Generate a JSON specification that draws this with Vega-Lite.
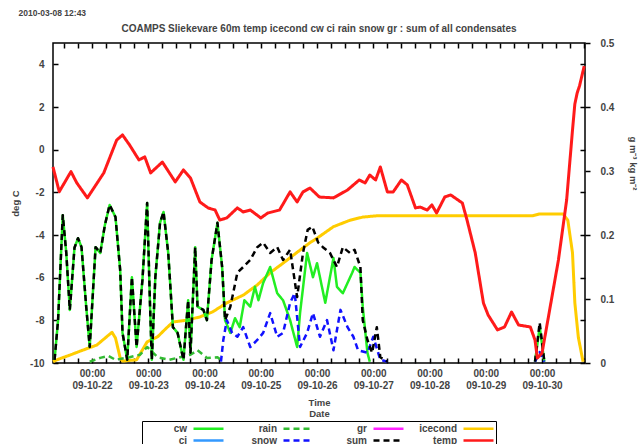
{
  "$schema": "https://vega.github.io/schema/vega-lite/v6.json",
  "width": 532,
  "height": 320,
  "autosize": "none",
  "padding": {"left": 53, "top": 43, "right": 57, "bottom": 81},
  "background": "white",
  "title": {
    "text": "COAMPS Sliekevare 60m  temp icecond cw ci rain snow gr : sum of all condensates",
    "anchor": "middle",
    "frame": "group",
    "offset": 9,
    "dy": 35,
    "font": "Liberation Sans",
    "fontSize": 10,
    "fontWeight": "bold",
    "color": "#444"
  },
  "config": {
    "view": {"stroke": "black", "strokeWidth": 1.5},
    "font": "Liberation Sans",
    "axis": {
      "labelFont": "Liberation Sans",
      "labelFontWeight": "bold",
      "labelFontSize": 10,
      "labelColor": "#444",
      "titleFont": "Liberation Sans",
      "titleFontWeight": "bold",
      "titleFontSize": 9.5,
      "titleColor": "#444",
      "tickColor": "black",
      "tickWidth": 1.5,
      "domain": false,
      "grid": false
    },
    "legend": {
      "labelFont": "Liberation Sans",
      "labelFontWeight": "bold",
      "labelFontSize": 10,
      "labelColor": "#444"
    },
    "line": {"strokeWidth": 2.5, "strokeJoin": "round"}
  },
  "data": {
    "values": [
      {"s": "temp", "t": "2009-10-21T07:20Z", "v": -0.81},
      {"s": "temp", "t": "2009-10-21T10:00Z", "v": -1.97},
      {"s": "temp", "t": "2009-10-21T15:00Z", "v": -1.03},
      {"s": "temp", "t": "2009-10-21T17:30Z", "v": -1.56},
      {"s": "temp", "t": "2009-10-21T22:00Z", "v": -2.26},
      {"s": "temp", "t": "2009-10-22T05:00Z", "v": -1.09},
      {"s": "temp", "t": "2009-10-22T10:30Z", "v": 0.45},
      {"s": "temp", "t": "2009-10-22T13:00Z", "v": 0.69},
      {"s": "temp", "t": "2009-10-22T16:00Z", "v": 0.22},
      {"s": "temp", "t": "2009-10-22T20:00Z", "v": -0.48},
      {"s": "temp", "t": "2009-10-22T22:30Z", "v": -0.34},
      {"s": "temp", "t": "2009-10-23T01:00Z", "v": -1.09},
      {"s": "temp", "t": "2009-10-23T06:00Z", "v": -0.58},
      {"s": "temp", "t": "2009-10-23T11:30Z", "v": -1.51},
      {"s": "temp", "t": "2009-10-23T15:00Z", "v": -0.95},
      {"s": "temp", "t": "2009-10-23T18:00Z", "v": -1.33},
      {"s": "temp", "t": "2009-10-23T22:00Z", "v": -2.45},
      {"s": "temp", "t": "2009-10-24T01:30Z", "v": -2.73},
      {"s": "temp", "t": "2009-10-24T04:30Z", "v": -2.83},
      {"s": "temp", "t": "2009-10-24T06:30Z", "v": -3.30},
      {"s": "temp", "t": "2009-10-24T09:30Z", "v": -3.20},
      {"s": "temp", "t": "2009-10-24T14:00Z", "v": -2.73},
      {"s": "temp", "t": "2009-10-24T16:30Z", "v": -2.92},
      {"s": "temp", "t": "2009-10-24T19:30Z", "v": -2.83},
      {"s": "temp", "t": "2009-10-25T00:00Z", "v": -3.20},
      {"s": "temp", "t": "2009-10-25T03:00Z", "v": -2.97},
      {"s": "temp", "t": "2009-10-25T08:00Z", "v": -2.83},
      {"s": "temp", "t": "2009-10-25T12:30Z", "v": -1.98},
      {"s": "temp", "t": "2009-10-25T15:30Z", "v": -2.45},
      {"s": "temp", "t": "2009-10-25T18:00Z", "v": -1.98},
      {"s": "temp", "t": "2009-10-25T21:00Z", "v": -1.80},
      {"s": "temp", "t": "2009-10-26T01:00Z", "v": -2.22},
      {"s": "temp", "t": "2009-10-26T07:00Z", "v": -2.26},
      {"s": "temp", "t": "2009-10-26T13:00Z", "v": -1.89},
      {"s": "temp", "t": "2009-10-26T18:00Z", "v": -1.42},
      {"s": "temp", "t": "2009-10-26T20:30Z", "v": -1.56},
      {"s": "temp", "t": "2009-10-26T22:30Z", "v": -1.19},
      {"s": "temp", "t": "2009-10-27T01:00Z", "v": -1.42},
      {"s": "temp", "t": "2009-10-27T03:00Z", "v": -0.81},
      {"s": "temp", "t": "2009-10-27T06:00Z", "v": -1.98},
      {"s": "temp", "t": "2009-10-27T08:30Z", "v": -1.98},
      {"s": "temp", "t": "2009-10-27T12:00Z", "v": -1.42},
      {"s": "temp", "t": "2009-10-27T14:30Z", "v": -1.65},
      {"s": "temp", "t": "2009-10-27T18:00Z", "v": -2.73},
      {"s": "temp", "t": "2009-10-27T20:00Z", "v": -2.69},
      {"s": "temp", "t": "2009-10-27T23:00Z", "v": -2.83},
      {"s": "temp", "t": "2009-10-28T01:00Z", "v": -2.59},
      {"s": "temp", "t": "2009-10-28T03:00Z", "v": -2.97},
      {"s": "temp", "t": "2009-10-28T06:30Z", "v": -2.22},
      {"s": "temp", "t": "2009-10-28T09:00Z", "v": -2.12},
      {"s": "temp", "t": "2009-10-28T14:00Z", "v": -2.50},
      {"s": "temp", "t": "2009-10-28T16:00Z", "v": -3.30},
      {"s": "temp", "t": "2009-10-28T19:30Z", "v": -4.84},
      {"s": "temp", "t": "2009-10-28T23:00Z", "v": -7.19},
      {"s": "temp", "t": "2009-10-29T01:00Z", "v": -7.75},
      {"s": "temp", "t": "2009-10-29T05:00Z", "v": -8.45},
      {"s": "temp", "t": "2009-10-29T08:00Z", "v": -8.31},
      {"s": "temp", "t": "2009-10-29T11:00Z", "v": -7.61},
      {"s": "temp", "t": "2009-10-29T14:00Z", "v": -8.22},
      {"s": "temp", "t": "2009-10-29T19:00Z", "v": -8.31},
      {"s": "temp", "t": "2009-10-29T21:00Z", "v": -8.92},
      {"s": "temp", "t": "2009-10-29T22:00Z", "v": -9.77},
      {"s": "temp", "t": "2009-10-30T00:00Z", "v": -9.53},
      {"s": "temp", "t": "2009-10-30T02:30Z", "v": -7.98},
      {"s": "temp", "t": "2009-10-30T07:00Z", "v": -5.17},
      {"s": "temp", "t": "2009-10-30T10:30Z", "v": -2.36},
      {"s": "temp", "t": "2009-10-30T13:00Z", "v": 0.92},
      {"s": "temp", "t": "2009-10-30T14:00Z", "v": 2.14},
      {"s": "temp", "t": "2009-10-30T15:00Z", "v": 2.66},
      {"s": "temp", "t": "2009-10-30T16:00Z", "v": 2.99},
      {"s": "temp", "t": "2009-10-30T18:00Z", "v": 3.92},

      {"s": "icecond", "t": "2009-10-21T07:20Z", "v": 0.002},
      {"s": "icecond", "t": "2009-10-21T09:00Z", "v": 0.005},
      {"s": "icecond", "t": "2009-10-21T15:00Z", "v": 0.013},
      {"s": "icecond", "t": "2009-10-21T20:00Z", "v": 0.020},
      {"s": "icecond", "t": "2009-10-22T02:00Z", "v": 0.028},
      {"s": "icecond", "t": "2009-10-22T08:30Z", "v": 0.048},
      {"s": "icecond", "t": "2009-10-22T10:00Z", "v": 0.039},
      {"s": "icecond", "t": "2009-10-22T12:00Z", "v": 0.008},
      {"s": "icecond", "t": "2009-10-22T13:00Z", "v": 0.003},
      {"s": "icecond", "t": "2009-10-22T19:00Z", "v": 0.005},
      {"s": "icecond", "t": "2009-10-22T23:30Z", "v": 0.033},
      {"s": "icecond", "t": "2009-10-23T04:00Z", "v": 0.041},
      {"s": "icecond", "t": "2009-10-23T07:00Z", "v": 0.052},
      {"s": "icecond", "t": "2009-10-23T10:30Z", "v": 0.064},
      {"s": "icecond", "t": "2009-10-23T16:30Z", "v": 0.067},
      {"s": "icecond", "t": "2009-10-23T22:00Z", "v": 0.072},
      {"s": "icecond", "t": "2009-10-24T03:30Z", "v": 0.080},
      {"s": "icecond", "t": "2009-10-24T09:30Z", "v": 0.094},
      {"s": "icecond", "t": "2009-10-24T16:30Z", "v": 0.106},
      {"s": "icecond", "t": "2009-10-24T22:30Z", "v": 0.122},
      {"s": "icecond", "t": "2009-10-25T04:00Z", "v": 0.141},
      {"s": "icecond", "t": "2009-10-25T09:30Z", "v": 0.156},
      {"s": "icecond", "t": "2009-10-25T15:30Z", "v": 0.173},
      {"s": "icecond", "t": "2009-10-25T21:00Z", "v": 0.188},
      {"s": "icecond", "t": "2009-10-26T00:00Z", "v": 0.195},
      {"s": "icecond", "t": "2009-10-26T07:00Z", "v": 0.213},
      {"s": "icecond", "t": "2009-10-26T14:00Z", "v": 0.223},
      {"s": "icecond", "t": "2009-10-26T19:30Z", "v": 0.228},
      {"s": "icecond", "t": "2009-10-27T01:30Z", "v": 0.230},
      {"s": "icecond", "t": "2009-10-28T01:30Z", "v": 0.230},
      {"s": "icecond", "t": "2009-10-29T20:00Z", "v": 0.230},
      {"s": "icecond", "t": "2009-10-29T23:00Z", "v": 0.233},
      {"s": "icecond", "t": "2009-10-30T09:00Z", "v": 0.233},
      {"s": "icecond", "t": "2009-10-30T11:00Z", "v": 0.223},
      {"s": "icecond", "t": "2009-10-30T13:00Z", "v": 0.172},
      {"s": "icecond", "t": "2009-10-30T14:00Z", "v": 0.094},
      {"s": "icecond", "t": "2009-10-30T15:30Z", "v": 0.040},
      {"s": "icecond", "t": "2009-10-30T17:30Z", "v": 0.002},

      {"s": "sum", "t": "2009-10-21T08:00Z", "v": 0.005},
      {"s": "sum", "t": "2009-10-21T09:30Z", "v": 0.067},
      {"s": "sum", "t": "2009-10-21T11:30Z", "v": 0.231},
      {"s": "sum", "t": "2009-10-21T13:00Z", "v": 0.172},
      {"s": "sum", "t": "2009-10-21T14:30Z", "v": 0.083},
      {"s": "sum", "t": "2009-10-21T16:30Z", "v": 0.180},
      {"s": "sum", "t": "2009-10-21T18:00Z", "v": 0.195},
      {"s": "sum", "t": "2009-10-21T19:30Z", "v": 0.181},
      {"s": "sum", "t": "2009-10-21T21:30Z", "v": 0.088},
      {"s": "sum", "t": "2009-10-21T23:00Z", "v": 0.025},
      {"s": "sum", "t": "2009-10-22T01:30Z", "v": 0.181},
      {"s": "sum", "t": "2009-10-22T03:30Z", "v": 0.172},
      {"s": "sum", "t": "2009-10-22T05:30Z", "v": 0.216},
      {"s": "sum", "t": "2009-10-22T07:30Z", "v": 0.247},
      {"s": "sum", "t": "2009-10-22T10:00Z", "v": 0.228},
      {"s": "sum", "t": "2009-10-22T12:00Z", "v": 0.145},
      {"s": "sum", "t": "2009-10-22T13:00Z", "v": 0.047},
      {"s": "sum", "t": "2009-10-22T15:00Z", "v": 0.005},
      {"s": "sum", "t": "2009-10-22T17:00Z", "v": 0.134},
      {"s": "sum", "t": "2009-10-22T19:00Z", "v": 0.025},
      {"s": "sum", "t": "2009-10-22T21:30Z", "v": 0.130},
      {"s": "sum", "t": "2009-10-22T23:30Z", "v": 0.250},
      {"s": "sum", "t": "2009-10-23T00:45Z", "v": 0.088},
      {"s": "sum", "t": "2009-10-23T01:30Z", "v": 0.005},
      {"s": "sum", "t": "2009-10-23T03:00Z", "v": 0.134},
      {"s": "sum", "t": "2009-10-23T05:00Z", "v": 0.219},
      {"s": "sum", "t": "2009-10-23T06:30Z", "v": 0.236},
      {"s": "sum", "t": "2009-10-23T08:30Z", "v": 0.172},
      {"s": "sum", "t": "2009-10-23T10:30Z", "v": 0.056},
      {"s": "sum", "t": "2009-10-23T12:30Z", "v": 0.047},
      {"s": "sum", "t": "2009-10-23T15:00Z", "v": 0.005},
      {"s": "sum", "t": "2009-10-23T17:00Z", "v": 0.098},
      {"s": "sum", "t": "2009-10-23T18:00Z", "v": 0.016},
      {"s": "sum", "t": "2009-10-23T20:00Z", "v": 0.181},
      {"s": "sum", "t": "2009-10-23T21:00Z", "v": 0.088},
      {"s": "sum", "t": "2009-10-23T23:30Z", "v": 0.083},
      {"s": "sum", "t": "2009-10-24T01:00Z", "v": 0.067},
      {"s": "sum", "t": "2009-10-24T03:00Z", "v": 0.161},
      {"s": "sum", "t": "2009-10-24T05:30Z", "v": 0.219},
      {"s": "sum", "t": "2009-10-24T07:30Z", "v": 0.150},
      {"s": "sum", "t": "2009-10-24T08:45Z", "v": 0.067},
      {"s": "sum", "t": "2009-10-24T11:00Z", "v": 0.088},
      {"s": "sum", "t": "2009-10-24T14:00Z", "v": 0.141},
      {"s": "sum", "t": "2009-10-24T16:30Z", "v": 0.150},
      {"s": "sum", "t": "2009-10-24T19:30Z", "v": 0.161},
      {"s": "sum", "t": "2009-10-24T22:30Z", "v": 0.181},
      {"s": "sum", "t": "2009-10-25T01:00Z", "v": 0.188},
      {"s": "sum", "t": "2009-10-25T04:00Z", "v": 0.172},
      {"s": "sum", "t": "2009-10-25T07:00Z", "v": 0.181},
      {"s": "sum", "t": "2009-10-25T09:30Z", "v": 0.161},
      {"s": "sum", "t": "2009-10-25T12:30Z", "v": 0.177},
      {"s": "sum", "t": "2009-10-25T15:30Z", "v": 0.103},
      {"s": "sum", "t": "2009-10-25T18:00Z", "v": 0.172},
      {"s": "sum", "t": "2009-10-25T20:00Z", "v": 0.208},
      {"s": "sum", "t": "2009-10-25T22:00Z", "v": 0.213},
      {"s": "sum", "t": "2009-10-26T00:30Z", "v": 0.188},
      {"s": "sum", "t": "2009-10-26T02:30Z", "v": 0.181},
      {"s": "sum", "t": "2009-10-26T05:30Z", "v": 0.172},
      {"s": "sum", "t": "2009-10-26T08:30Z", "v": 0.150},
      {"s": "sum", "t": "2009-10-26T11:00Z", "v": 0.181},
      {"s": "sum", "t": "2009-10-26T14:00Z", "v": 0.172},
      {"s": "sum", "t": "2009-10-26T16:00Z", "v": 0.177},
      {"s": "sum", "t": "2009-10-26T18:30Z", "v": 0.150},
      {"s": "sum", "t": "2009-10-26T19:30Z", "v": 0.067},
      {"s": "sum", "t": "2009-10-26T21:30Z", "v": 0.036},
      {"s": "sum", "t": "2009-10-26T23:30Z", "v": 0.016},
      {"s": "sum", "t": "2009-10-27T01:30Z", "v": 0.056},
      {"s": "sum", "t": "2009-10-27T03:00Z", "v": 0.009},
      {"s": "sum", "t": "2009-10-27T06:00Z", "v": 0.002},
      {"s": "sum", "t": "2009-10-27T07:00Z", "v": null},
      {"s": "sum", "t": "2009-10-29T21:00Z", "v": 0.002},
      {"s": "sum", "t": "2009-10-29T23:00Z", "v": 0.063},
      {"s": "sum", "t": "2009-10-30T01:00Z", "v": 0.002},

      {"s": "cw", "t": "2009-10-21T08:00Z", "v": 0.005},
      {"s": "cw", "t": "2009-10-21T09:30Z", "v": 0.067},
      {"s": "cw", "t": "2009-10-21T11:30Z", "v": 0.231},
      {"s": "cw", "t": "2009-10-21T13:00Z", "v": 0.172},
      {"s": "cw", "t": "2009-10-21T14:30Z", "v": 0.083},
      {"s": "cw", "t": "2009-10-21T16:30Z", "v": 0.180},
      {"s": "cw", "t": "2009-10-21T18:00Z", "v": 0.195},
      {"s": "cw", "t": "2009-10-21T19:30Z", "v": 0.181},
      {"s": "cw", "t": "2009-10-21T21:30Z", "v": 0.088},
      {"s": "cw", "t": "2009-10-21T23:00Z", "v": 0.025},
      {"s": "cw", "t": "2009-10-22T01:30Z", "v": 0.181},
      {"s": "cw", "t": "2009-10-22T03:30Z", "v": 0.172},
      {"s": "cw", "t": "2009-10-22T05:30Z", "v": 0.216},
      {"s": "cw", "t": "2009-10-22T07:30Z", "v": 0.247},
      {"s": "cw", "t": "2009-10-22T10:00Z", "v": 0.228},
      {"s": "cw", "t": "2009-10-22T12:00Z", "v": 0.145},
      {"s": "cw", "t": "2009-10-22T13:00Z", "v": 0.047},
      {"s": "cw", "t": "2009-10-22T15:00Z", "v": 0.005},
      {"s": "cw", "t": "2009-10-22T17:00Z", "v": 0.134},
      {"s": "cw", "t": "2009-10-22T19:00Z", "v": 0.025},
      {"s": "cw", "t": "2009-10-22T21:30Z", "v": 0.130},
      {"s": "cw", "t": "2009-10-22T23:30Z", "v": 0.250},
      {"s": "cw", "t": "2009-10-23T00:45Z", "v": 0.088},
      {"s": "cw", "t": "2009-10-23T01:30Z", "v": 0.005},
      {"s": "cw", "t": "2009-10-23T03:00Z", "v": 0.134},
      {"s": "cw", "t": "2009-10-23T05:00Z", "v": 0.219},
      {"s": "cw", "t": "2009-10-23T06:30Z", "v": 0.236},
      {"s": "cw", "t": "2009-10-23T08:30Z", "v": 0.172},
      {"s": "cw", "t": "2009-10-23T10:30Z", "v": 0.056},
      {"s": "cw", "t": "2009-10-23T12:30Z", "v": 0.047},
      {"s": "cw", "t": "2009-10-23T15:00Z", "v": 0.005},
      {"s": "cw", "t": "2009-10-23T17:00Z", "v": 0.098},
      {"s": "cw", "t": "2009-10-23T18:00Z", "v": 0.016},
      {"s": "cw", "t": "2009-10-23T20:00Z", "v": 0.181},
      {"s": "cw", "t": "2009-10-23T21:00Z", "v": 0.088},
      {"s": "cw", "t": "2009-10-23T23:30Z", "v": 0.083},
      {"s": "cw", "t": "2009-10-24T01:00Z", "v": 0.067},
      {"s": "cw", "t": "2009-10-24T03:00Z", "v": 0.161},
      {"s": "cw", "t": "2009-10-24T05:30Z", "v": 0.219},
      {"s": "cw", "t": "2009-10-24T07:30Z", "v": 0.150},
      {"s": "cw", "t": "2009-10-24T08:45Z", "v": 0.067},
      {"s": "cw", "t": "2009-10-24T11:00Z", "v": 0.047},
      {"s": "cw", "t": "2009-10-24T13:00Z", "v": 0.070},
      {"s": "cw", "t": "2009-10-24T15:00Z", "v": 0.056},
      {"s": "cw", "t": "2009-10-24T17:00Z", "v": 0.098},
      {"s": "cw", "t": "2009-10-24T19:30Z", "v": 0.088},
      {"s": "cw", "t": "2009-10-24T21:30Z", "v": 0.119},
      {"s": "cw", "t": "2009-10-24T23:00Z", "v": 0.098},
      {"s": "cw", "t": "2009-10-25T01:00Z", "v": 0.125},
      {"s": "cw", "t": "2009-10-25T04:00Z", "v": 0.150},
      {"s": "cw", "t": "2009-10-25T07:00Z", "v": 0.109},
      {"s": "cw", "t": "2009-10-25T09:30Z", "v": 0.098},
      {"s": "cw", "t": "2009-10-25T12:30Z", "v": 0.067},
      {"s": "cw", "t": "2009-10-25T15:30Z", "v": 0.025},
      {"s": "cw", "t": "2009-10-25T16:45Z", "v": 0.078},
      {"s": "cw", "t": "2009-10-25T19:45Z", "v": 0.172},
      {"s": "cw", "t": "2009-10-25T22:15Z", "v": 0.134},
      {"s": "cw", "t": "2009-10-26T00:00Z", "v": 0.156},
      {"s": "cw", "t": "2009-10-26T03:30Z", "v": 0.094},
      {"s": "cw", "t": "2009-10-26T07:00Z", "v": 0.164},
      {"s": "cw", "t": "2009-10-26T08:30Z", "v": 0.119},
      {"s": "cw", "t": "2009-10-26T11:00Z", "v": 0.109},
      {"s": "cw", "t": "2009-10-26T15:00Z", "v": 0.141},
      {"s": "cw", "t": "2009-10-26T16:00Z", "v": 0.150},
      {"s": "cw", "t": "2009-10-26T18:30Z", "v": 0.141},
      {"s": "cw", "t": "2009-10-26T19:30Z", "v": 0.088},
      {"s": "cw", "t": "2009-10-26T21:30Z", "v": 0.016},
      {"s": "cw", "t": "2009-10-26T22:30Z", "v": 0.002},
      {"s": "cw", "t": "2009-10-26T23:30Z", "v": null},
      {"s": "cw", "t": "2009-10-29T21:00Z", "v": 0.002},
      {"s": "cw", "t": "2009-10-29T23:00Z", "v": 0.056},
      {"s": "cw", "t": "2009-10-30T01:00Z", "v": 0.002},

      {"s": "snow", "t": "2009-10-24T07:00Z", "v": 0.002},
      {"s": "snow", "t": "2009-10-24T08:00Z", "v": 0.036},
      {"s": "snow", "t": "2009-10-24T09:30Z", "v": 0.067},
      {"s": "snow", "t": "2009-10-24T11:45Z", "v": 0.047},
      {"s": "snow", "t": "2009-10-24T14:00Z", "v": 0.041},
      {"s": "snow", "t": "2009-10-24T16:30Z", "v": 0.056},
      {"s": "snow", "t": "2009-10-24T19:30Z", "v": 0.025},
      {"s": "snow", "t": "2009-10-24T22:30Z", "v": 0.036},
      {"s": "snow", "t": "2009-10-25T01:00Z", "v": 0.047},
      {"s": "snow", "t": "2009-10-25T04:00Z", "v": 0.078},
      {"s": "snow", "t": "2009-10-25T07:00Z", "v": 0.041},
      {"s": "snow", "t": "2009-10-25T09:30Z", "v": 0.047},
      {"s": "snow", "t": "2009-10-25T12:30Z", "v": 0.094},
      {"s": "snow", "t": "2009-10-25T14:30Z", "v": 0.109},
      {"s": "snow", "t": "2009-10-25T16:45Z", "v": 0.025},
      {"s": "snow", "t": "2009-10-25T19:45Z", "v": 0.047},
      {"s": "snow", "t": "2009-10-25T22:15Z", "v": 0.078},
      {"s": "snow", "t": "2009-10-26T01:15Z", "v": 0.041},
      {"s": "snow", "t": "2009-10-26T04:15Z", "v": 0.067},
      {"s": "snow", "t": "2009-10-26T07:00Z", "v": 0.020},
      {"s": "snow", "t": "2009-10-26T10:00Z", "v": 0.083},
      {"s": "snow", "t": "2009-10-26T13:00Z", "v": 0.056},
      {"s": "snow", "t": "2009-10-26T15:30Z", "v": 0.041},
      {"s": "snow", "t": "2009-10-26T17:30Z", "v": 0.020},
      {"s": "snow", "t": "2009-10-26T21:30Z", "v": 0.016},
      {"s": "snow", "t": "2009-10-27T00:00Z", "v": 0.041},
      {"s": "snow", "t": "2009-10-27T03:00Z", "v": 0.005},
      {"s": "snow", "t": "2009-10-27T06:00Z", "v": 0.002},
      {"s": "snow", "t": "2009-10-27T07:00Z", "v": null},
      {"s": "snow", "t": "2009-10-29T21:00Z", "v": 0.002},
      {"s": "snow", "t": "2009-10-29T23:00Z", "v": 0.017},
      {"s": "snow", "t": "2009-10-30T01:00Z", "v": 0.002},

      {"s": "rain", "t": "2009-10-21T23:00Z", "v": 0.002},
      {"s": "rain", "t": "2009-10-22T03:30Z", "v": 0.008},
      {"s": "rain", "t": "2009-10-22T07:00Z", "v": 0.011},
      {"s": "rain", "t": "2009-10-22T10:00Z", "v": 0.005},
      {"s": "rain", "t": "2009-10-22T16:00Z", "v": 0.009},
      {"s": "rain", "t": "2009-10-22T20:30Z", "v": 0.013},
      {"s": "rain", "t": "2009-10-22T23:30Z", "v": 0.025},
      {"s": "rain", "t": "2009-10-23T04:00Z", "v": 0.009},
      {"s": "rain", "t": "2009-10-23T09:00Z", "v": 0.005},
      {"s": "rain", "t": "2009-10-23T18:00Z", "v": 0.013},
      {"s": "rain", "t": "2009-10-23T21:00Z", "v": 0.020},
      {"s": "rain", "t": "2009-10-24T01:00Z", "v": 0.008},
      {"s": "rain", "t": "2009-10-24T05:30Z", "v": 0.009},
      {"s": "rain", "t": "2009-10-24T08:00Z", "v": 0.002}
    ]
  },
  "layer": [
    {
      "transform": [{"filter": "datum.s === 'icecond'"}],
      "mark": {"type": "line", "strokeWidth": 3},
      "encoding": {
        "x": {"field": "t", "type": "temporal",
              "scale": {"type": "utc", "domain": [{"year": 2009, "month": 10, "date": 21, "hours": 7, "minutes": 20, "utc": true}, {"year": 2009, "month": 10, "date": 30, "hours": 18, "minutes": 20, "utc": true}]},
              "axis": null},
        "y": {"field": "v", "type": "quantitative", "scale": {"domain": [0, 0.5], "nice": false, "zero": false},
              "axis": {"orient": "right", "values": [0, 0.1, 0.2, 0.3, 0.4, 0.5], "tickSize": 5, "labelPadding": 10,
                       "labelExpr": "'' + datum.value", "title": "g m⁻³ kg m⁻²", "titleAngle": 90,
                       "titleX": 47, "titleY": 120, "titleAlign": "center", "titleBaseline": "middle"}},
        "color": {"field": "s", "type": "nominal",
                  "scale": {"domain": ["cw", "rain", "gr", "icecond", "ci", "snow", "sum", "temp"],
                            "range": ["#22ee22", "#33bb33", "#ff22ff", "#ffcc00", "#3399ff", "#1111ff", "#000000", "#ff1a1a"]},
                  "legend": {"orient": "none", "legendX": 89, "legendY": 378, "columns": 4, "direction": "horizontal", "title": null,
                             "symbolType": "M-3,0H3", "symbolSize": 100, "symbolStrokeWidth": 2.5, "symbolOffset": 59,
                             "labelAlign": "right", "labelOffset": -28, "gridAlign": "all", "columnPadding": 8,
                             "rowPadding": 0, "padding": 1, "strokeColor": "black", "fillColor": "white"}},
        "strokeDash": {"field": "s", "type": "nominal",
                       "scale": {"domain": ["cw", "rain", "gr", "icecond", "ci", "snow", "sum", "temp"],
                                 "range": [[1, 0], [6, 4], [1, 0], [1, 0], [1, 0], [6, 4], [6, 4], [1, 0]]},
                       "legend": {"orient": "none", "legendX": 89, "legendY": 378, "columns": 4, "direction": "horizontal", "title": null,
                                  "symbolType": "M-3,0H3", "symbolSize": 100, "symbolStrokeWidth": 2.5, "symbolOffset": 59,
                                  "labelAlign": "right", "labelOffset": -28, "gridAlign": "all", "columnPadding": 8,
                                  "rowPadding": 0, "padding": 1, "strokeColor": "black", "fillColor": "white"}}
      }
    },
    {
      "transform": [{"filter": "datum.s === 'rain'"}],
      "mark": {"type": "line"},
      "encoding": {
        "x": {"field": "t", "type": "temporal", "axis": null},
        "y": {"field": "v", "type": "quantitative", "scale": {"domain": [0, 0.5], "nice": false, "zero": false}, "axis": null},
        "color": {"field": "s", "type": "nominal"},
        "strokeDash": {"field": "s", "type": "nominal"}
      }
    },
    {
      "transform": [{"filter": "datum.s === 'cw'"}],
      "mark": {"type": "line"},
      "encoding": {
        "x": {"field": "t", "type": "temporal", "axis": null},
        "y": {"field": "v", "type": "quantitative", "scale": {"domain": [0, 0.5], "nice": false, "zero": false}, "axis": null},
        "color": {"field": "s", "type": "nominal"},
        "strokeDash": {"field": "s", "type": "nominal"}
      }
    },
    {
      "transform": [{"filter": "datum.s === 'snow'"}],
      "mark": {"type": "line"},
      "encoding": {
        "x": {"field": "t", "type": "temporal", "axis": null},
        "y": {"field": "v", "type": "quantitative", "scale": {"domain": [0, 0.5], "nice": false, "zero": false}, "axis": null},
        "color": {"field": "s", "type": "nominal"},
        "strokeDash": {"field": "s", "type": "nominal"}
      }
    },
    {
      "transform": [{"filter": "datum.s === 'sum'"}],
      "mark": {"type": "line"},
      "encoding": {
        "x": {"field": "t", "type": "temporal", "axis": null},
        "y": {"field": "v", "type": "quantitative", "scale": {"domain": [0, 0.5], "nice": false, "zero": false}, "axis": null},
        "color": {"field": "s", "type": "nominal"},
        "strokeDash": {"field": "s", "type": "nominal"}
      }
    },
    {
      "transform": [{"filter": "datum.s === 'temp'"}],
      "mark": {"type": "line", "strokeWidth": 3},
      "encoding": {
        "x": {"field": "t", "type": "temporal",
              "axis": {"orient": "bottom", "tickCount": 38, "tickSize": -5,
                       "labelExpr": "utchours(datum.value) == 0 ? [utcFormat(datum.value, '%H:%M'), utcFormat(datum.value, '%y-%m-%d')] : ''",
                       "labelBaseline": "top", "labelPadding": 10, "labelLineHeight": 12,
                       "labelOverlap": false, "labelFlush": false,
                       "title": ["Time", "Date"], "titleY": 34, "titleBaseline": "top"}},
        "y": {"field": "v", "type": "quantitative", "scale": {"domain": [-10, 5], "nice": false, "zero": false},
              "axis": {"orient": "left", "values": [-10, -8, -6, -4, -2, 0, 2, 4], "tickSize": -5, "labelPadding": 14,
                       "labelExpr": "'' + datum.value", "title": "deg C", "titleAngle": -90,
                       "titleX": -38, "titleY": 160, "titleAlign": "center", "titleBaseline": "middle"}},
        "color": {"field": "s", "type": "nominal"},
        "strokeDash": {"field": "s", "type": "nominal"}
      }
    },
    {
      "transform": [{"filter": "datum.s === 'temp'"}],
      "mark": {"type": "line", "opacity": 0},
      "encoding": {
        "x": {"field": "t", "type": "temporal",
              "axis": {"orient": "top", "tickCount": 38, "tickSize": -5, "labels": false,
                       "title": "2010-03-08 12:43", "titleX": -35, "titleY": -31, "titleAngle": 0,
                       "titleAlign": "left", "titleBaseline": "middle", "titleFontSize": 8.5}},
        "y": {"field": "v", "type": "quantitative", "scale": {"domain": [-10, 5], "nice": false, "zero": false},
              "axis": {"orient": "right", "values": [-10, -8, -6, -4, -2, 0, 2, 4], "tickSize": -5, "labels": false, "title": null}}
      }
    }
  ],
  "resolve": {"scale": {"y": "independent"}, "axis": {"x": "independent", "y": "independent"}}
}
